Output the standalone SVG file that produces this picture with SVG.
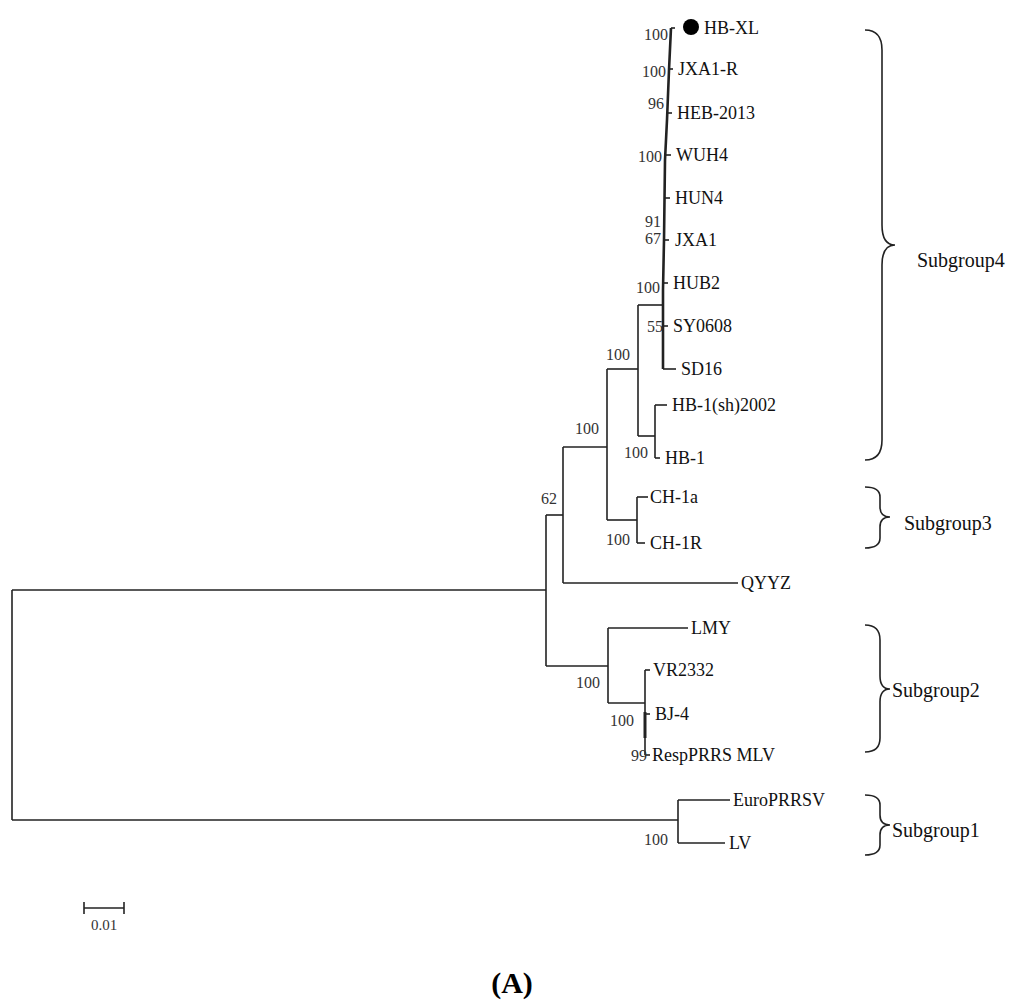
<svg xmlns="http://www.w3.org/2000/svg" width="1024" height="1004" viewBox="0 0 1024 1004">
<style>
.t{font-family:"Liberation Serif",serif;font-size:18px;fill:#111}
.b{font-family:"Liberation Serif",serif;font-size:16px;fill:#333;text-anchor:end}
.s{font-family:"Liberation Serif",serif;font-size:20px;fill:#111}
line,polyline,path{stroke:#222;stroke-width:1.6;fill:none}
</style>
<rect width="1024" height="1004" fill="#fff"/>
<g id="connectors">
<polyline points="12,590 12,820"/>
<line x1="12" y1="590" x2="546" y2="590"/><line x1="12" y1="820" x2="678" y2="820"/>
<line x1="546" y1="515" x2="546" y2="666"/>
<line x1="546" y1="515" x2="563" y2="515"/><line x1="546" y1="666" x2="608" y2="666"/>
<line x1="563" y1="447" x2="563" y2="583"/>
<line x1="563" y1="447" x2="607" y2="447"/><line x1="563" y1="583" x2="738" y2="583"/>
<line x1="607" y1="369" x2="607" y2="520"/>
<line x1="607" y1="369" x2="638" y2="369"/><line x1="607" y1="520" x2="637" y2="520"/>
<line x1="637" y1="497" x2="637" y2="543"/>
<line x1="637" y1="497" x2="648" y2="497"/><line x1="637" y1="543" x2="645" y2="543"/>
<line x1="638" y1="305" x2="638" y2="436"/>
<line x1="638" y1="305" x2="663" y2="305"/><line x1="638" y1="436" x2="655" y2="436"/>
<line x1="655" y1="405" x2="655" y2="458"/>
<line x1="655" y1="405" x2="667" y2="405"/><line x1="655" y1="458" x2="660" y2="458"/>
<polyline points="663,369 663,290 664,240 665,160 667,120 669,70 671,28" style="stroke-width:2.6"/>
<line x1="663" y1="369" x2="676" y2="369"/>
<line x1="663" y1="326" x2="668" y2="326"/>
<line x1="663" y1="283" x2="668" y2="283"/>
<line x1="664" y1="240" x2="669" y2="240"/>
<line x1="665" y1="198" x2="670" y2="198"/>
<line x1="666" y1="155" x2="671" y2="155"/>
<line x1="667" y1="113" x2="672" y2="113"/>
<line x1="669" y1="69" x2="673" y2="69"/>
<line x1="671" y1="28" x2="675" y2="28"/>
<line x1="608" y1="628" x2="608" y2="703"/>
<line x1="608" y1="628" x2="688" y2="628"/><line x1="608" y1="703" x2="645" y2="703"/>
<line x1="645" y1="670" x2="645" y2="755"/><line x1="645" y1="712" x2="645" y2="738" style="stroke-width:3"/>
<line x1="645" y1="670" x2="650" y2="670"/><line x1="645" y1="714" x2="650" y2="714"/><line x1="645" y1="755" x2="650" y2="755"/>
<line x1="678" y1="800" x2="678" y2="843"/>
<line x1="678" y1="800" x2="730" y2="800"/><line x1="678" y1="843" x2="725" y2="843"/>
<path d="M865,30 Q882,30 882,50 L882,225 Q882,245 895,245 Q882,245 882,265 L882,440 Q882,460 865,460"/>
<path d="M865,487 Q880,487 880,497 L880,507 Q880,517 890,517 Q880,517 880,527 L880,538 Q880,548 865,548"/>
<path d="M865,625 Q880,625 880,640 L880,676 Q880,689 890,689 Q880,689 880,702 L880,738 Q880,752 865,752"/>
<path d="M865,795 Q880,795 880,805 L880,815 Q880,825 890,825 Q880,825 880,835 L880,845 Q880,855 865,855"/>
<line x1="84" y1="908" x2="124" y2="908"/><line x1="84" y1="902" x2="84" y2="914"/><line x1="124" y1="902" x2="124" y2="914"/>
</g>
<g id="leaves">
<circle cx="691" cy="27" r="8" fill="#000"/>
<text class="t" x="704" y="34">HB-XL</text>
<text class="t" x="678" y="75">JXA1-R</text>
<text class="t" x="677" y="119">HEB-2013</text>
<text class="t" x="676" y="161">WUH4</text>
<text class="t" x="675" y="204">HUN4</text>
<text class="t" x="675" y="246">JXA1</text>
<text class="t" x="673" y="289">HUB2</text>
<text class="t" x="673" y="332">SY0608</text>
<text class="t" x="681" y="375">SD16</text>
<text class="t" x="672" y="411">HB-1(sh)2002</text>
<text class="t" x="665" y="464">HB-1</text>
<text class="t" x="650" y="503">CH-1a</text>
<text class="t" x="650" y="549">CH-1R</text>
<text class="t" x="741" y="589">QYYZ</text>
<text class="t" x="691" y="634">LMY</text>
<text class="t" x="653" y="676">VR2332</text>
<text class="t" x="655" y="720">BJ-4</text>
<text class="t" x="652" y="761">RespPRRS MLV</text>
<text class="t" x="733" y="806">EuroPRRSV</text>
<text class="t" x="729" y="849">LV</text>
</g>
<g id="bootstrap">
<text class="b" x="668" y="40">100</text>
<text class="b" x="666" y="77">100</text>
<text class="b" x="664" y="109">96</text>
<text class="b" x="662" y="162">100</text>
<text class="b" x="661" y="227">91</text>
<text class="b" x="661" y="244">67</text>
<text class="b" x="660" y="293">100</text>
<text class="b" x="663" y="332">55</text>
<text class="b" x="630" y="360">100</text>
<text class="b" x="599" y="434">100</text>
<text class="b" x="648" y="458">100</text>
<text class="b" x="557" y="504">62</text>
<text class="b" x="630" y="545">100</text>
<text class="b" x="600" y="688">100</text>
<text class="b" x="634" y="726">100</text>
<text class="b" x="647" y="761">99</text>
<text class="b" x="668" y="845">100</text>
</g>
<g id="groups">
<text class="s" x="917" y="267">Subgroup4</text>
<text class="s" x="904" y="530">Subgroup3</text>
<text class="s" x="892" y="697">Subgroup2</text>
<text class="s" x="892" y="837">Subgroup1</text>
<text class="b" x="104" y="930" style="text-anchor:middle;font-size:15px">0.01</text>
<text x="512" y="993" style="font-family:'Liberation Serif',serif;font-size:30px;font-weight:bold;text-anchor:middle">(A)</text>
</g>
</svg>
